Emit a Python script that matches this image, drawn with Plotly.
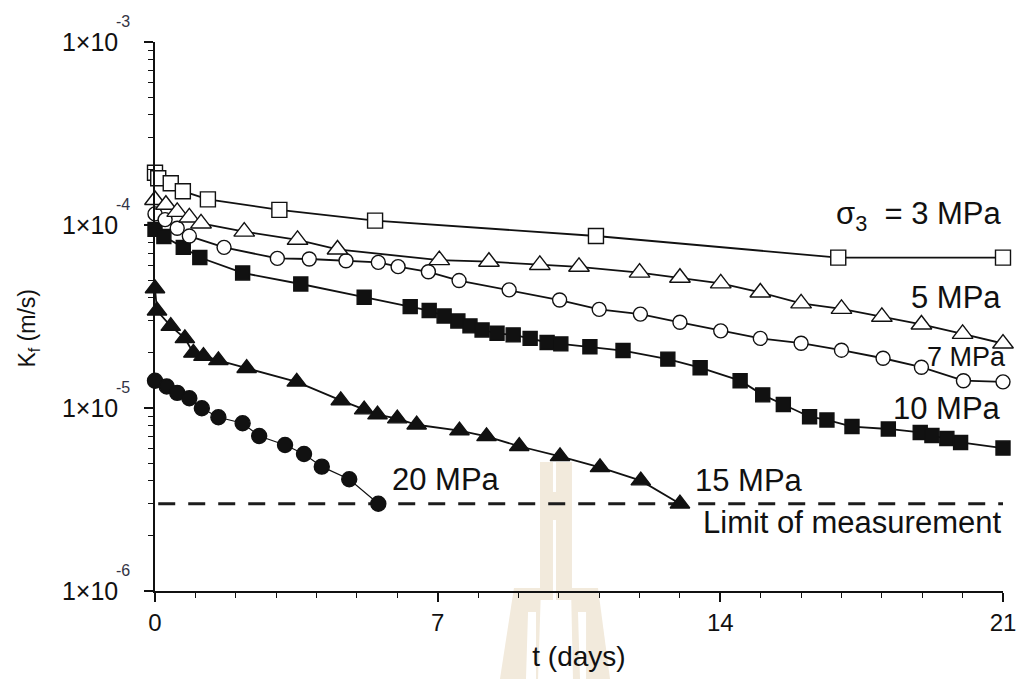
import math
import plotly.graph_objects as go

# Fracture permeability K_f (m/s) versus time t (days) at each confining pressure
t_3mpa = [0, 0.08, 0.39, 0.69, 1.31, 3.08, 5.45, 10.92, 16.92, 21.0]
k_3mpa = [1.93e-4, 1.80e-4, 1.69e-4, 1.53e-4, 1.38e-4, 1.21e-4, 1.056e-4, 8.71e-5, 6.63e-5, 6.63e-5]

t_5mpa = [0, 0.27, 0.55, 0.85, 1.14, 2.21, 3.53, 4.52, 7.04, 8.27, 9.53, 10.50,
          12.0, 13.0, 14.01, 14.99, 16.0, 17.0, 18.0, 18.98, 20.0, 21.0]
k_5mpa = [1.37e-4, 1.29e-4, 1.18e-4, 1.10e-4, 1.02e-4, 9.2e-5, 8.3e-5, 7.35e-5,
          6.43e-5, 6.30e-5, 6.05e-5, 5.91e-5, 5.49e-5, 5.15e-5, 4.80e-5, 4.28e-5,
          3.73e-5, 3.48e-5, 3.15e-5, 2.86e-5, 2.54e-5, 2.25e-5]

t_7mpa = [0, 0.25, 0.55, 0.85, 1.71, 3.03, 3.82, 4.73, 5.53, 6.02, 6.77, 7.53,
          8.77, 10.02, 11.0, 12.02, 13.0, 14.01, 14.99, 16.0, 17.0, 18.03, 18.98,
          20.02, 21.0]
k_7mpa = [1.15e-4, 1.07e-4, 9.6e-5, 8.7e-5, 7.55e-5, 6.57e-5, 6.52e-5, 6.38e-5,
          6.25e-5, 5.92e-5, 5.55e-5, 4.97e-5, 4.42e-5, 3.89e-5, 3.46e-5, 3.26e-5,
          2.94e-5, 2.64e-5, 2.40e-5, 2.26e-5, 2.07e-5, 1.87e-5, 1.67e-5, 1.41e-5,
          1.39e-5]

t_10mpa = [0, 0.22, 0.70, 1.11, 2.17, 3.61, 5.18, 6.32, 6.79, 7.16, 7.50, 7.80,
           8.10, 8.47, 8.87, 9.29, 9.71, 10.05, 10.77, 11.59, 12.70, 13.50, 14.49,
           15.05, 15.56, 16.21, 16.64, 17.26, 18.16, 18.95, 19.24, 19.61, 19.95, 21.0]
k_10mpa = [9.47e-5, 8.65e-5, 7.55e-5, 6.64e-5, 5.47e-5, 4.76e-5, 4.03e-5, 3.58e-5,
           3.41e-5, 3.18e-5, 2.99e-5, 2.81e-5, 2.67e-5, 2.56e-5, 2.51e-5, 2.40e-5,
           2.28e-5, 2.24e-5, 2.16e-5, 2.06e-5, 1.85e-5, 1.66e-5, 1.41e-5, 1.18e-5,
           1.045e-5, 8.96e-6, 8.60e-6, 7.92e-6, 7.68e-6, 7.35e-6, 7.07e-6, 6.81e-6,
           6.48e-6, 6.04e-6]

t_15mpa = [0, 0.05, 0.39, 0.74, 0.95, 1.20, 1.57, 2.27, 3.51, 4.60, 5.18, 5.51,
           6.0, 6.48, 7.54, 8.21, 9.02, 10.03, 11.02, 12.03, 13.0]
k_15mpa = [4.50e-5, 3.40e-5, 2.80e-5, 2.40e-5, 2.00e-5, 1.92e-5, 1.82e-5, 1.65e-5,
           1.39e-5, 1.10e-5, 9.8e-6, 9.2e-6, 8.75e-6, 8.1e-6, 7.52e-6, 7.0e-6,
           6.18e-6, 5.44e-6, 4.74e-6, 4.01e-6, 3.0e-6]

t_20mpa = [0, 0.29, 0.55, 0.85, 1.16, 1.57, 2.17, 2.58, 3.22, 3.69, 4.13, 4.81, 5.53]
k_20mpa = [1.41e-5, 1.31e-5, 1.21e-5, 1.13e-5, 9.96e-6, 8.90e-6, 8.25e-6, 7.03e-6,
           6.28e-6, 5.61e-6, 4.78e-6, 4.08e-6, 3.0e-6]

# Lower limit of the permeability measurement
limit_t = [0.08, 21.0]
limit_k = [3.0e-6, 3.0e-6]

x_ticks = [0, 7, 14, 21]
y_ticks = [1e-6, 1e-5, 1e-4, 1e-3]
y_ticktext = ["1×10", "1×10", "1×10", "1×10"]
y_exponents = ["-6", "-5", "-4", "-3"]
y_minor = [m * 10.0 ** e for e in (-6, -5, -4) for m in range(2, 10)]

FONT = "Arial, 'Liberation Sans', sans-serif"
INK = "#111111"

fig = go.Figure()

fig.add_trace(go.Scatter(
    x=limit_t, y=limit_k, mode="lines",
    line=dict(color="#1c1c1c", width=3, dash="17px,13px"),
    hoverinfo="skip"))


def series(t, k, symbol, fill, size, lw=1.8):
    fig.add_trace(go.Scatter(
        x=t, y=k, mode="lines+markers", cliponaxis=False,
        line=dict(color=INK, width=lw),
        marker=dict(symbol=symbol, size=size, color=fill,
                    line=dict(color=INK, width=1.4))))


series(t_20mpa, k_20mpa, "circle", INK, 15, lw=1.2)
series(t_15mpa, k_15mpa, "triangle-up", INK, 17)
series(t_10mpa, k_10mpa, "square", INK, 14)
series(t_7mpa, k_7mpa, "circle", "white", 14)
series(t_5mpa, k_5mpa, "triangle-up", "white", 18)
series(t_3mpa, k_3mpa, "square", "white", 15)

labels = [
    ("σ<sub>3</sub>\u00a0\u00a0= 3 MPa", 1.0, 0.683, "right", 31),
    ("5 MPa", 1.0, 0.534, "right", 31),
    ("7 MPa", 1.006, 0.426, "right", 27),
    ("10 MPa", 1.0, 0.333, "right", 31),
    ("20 MPa", 0.277, 0.204, "left", 31),
    ("15 MPa", 0.634, 0.202, "left", 31),
    ("Limit of measurement", 1.0, 0.124, "right", 31),
]
for text, x, y, anchor, size in labels:
    fig.add_annotation(text=text, x=x, y=y, xref="paper", yref="paper",
                       xanchor=anchor, yanchor="middle", showarrow=False,
                       font=dict(family=FONT, size=size, color=INK))

# Raised decade exponents beside the "1×10" tick labels
for val, ex in zip(y_ticks, y_exponents):
    fig.add_annotation(text=ex, x=-0.0375, y=math.log10(val),
                       xref="paper", yref="y", yshift=21, showarrow=False,
                       xanchor="center", yanchor="middle",
                       font=dict(family=FONT, size=16, color="#333344"))

fig.add_annotation(text="K<sub>f</sub> (m/s)", x=-0.168, y=0.478,
                   xref="paper", yref="paper", textangle=-90,
                   showarrow=False, font=dict(family=FONT, size=23, color=INK))

# Faint emblem printed behind the plot
EMB = "#f2eadc"
emblem = [
    "M540,462 H572 V600 H540 Z",
    "M514,588 H541 L538,679 H500 Z",
    "M571,588 H598 L610,679 H573 Z",
]
slots = [
    "M553,462 H556 V492 H553 Z",
    "M553,520 H556 V679 H553 Z",
    "M528,612 H536 V679 H526 Z",
    "M578,612 H586 V679 H580 Z",
]


def to_paper(path):
    toks = path
    for c in "MHVLZ":
        toks = toks.replace(c, f" {c} ")
    out = toks.split()
    res, i, cur = [], 0, [0.0, 0.0]
    while i < len(out):
        c = out[i]
        if c in ("M", "L"):
            cur = list(map(float, out[i + 1].split(",")))
            res.append(f"{c} {(cur[0] - 155) / 848:.4f},{(591 - cur[1]) / 549:.4f}")
            i += 2
        elif c in ("H", "V"):
            cur[0 if c == "H" else 1] = float(out[i + 1])
            res.append(f"L {(cur[0] - 155) / 848:.4f},{(591 - cur[1]) / 549:.4f}")
            i += 2
        else:
            res.append("Z")
            i += 1
    return " ".join(res)


for p in emblem:
    fig.add_shape(type="path", path=to_paper(p), xref="paper", yref="paper",
                  fillcolor=EMB, line=dict(width=0), layer="below")
for p in slots:
    fig.add_shape(type="path", path=to_paper(p), xref="paper", yref="paper",
                  fillcolor="white", line=dict(width=0), layer="below")

fig.update_layout(
    width=1019, height=679,
    margin=dict(l=155, r=16, t=42, b=88, autoexpand=False),
    paper_bgcolor="white", plot_bgcolor="rgba(0,0,0,0)",
    showlegend=False,
    font=dict(family=FONT, color=INK),
)

fig.update_xaxes(
    range=[0, 21], tickvals=x_ticks, ticks="outside", ticklen=9, tickwidth=1.5,
    tickcolor=INK, showline=True, linecolor=INK, linewidth=1.5, showgrid=False,
    zeroline=False, automargin=False, tickfont=dict(family=FONT, size=24, color=INK),
    minor=dict(dtick=1, ticks="outside", ticklen=5, tickwidth=1.2, tickcolor=INK, showgrid=False),
    title=dict(text="t (days)", font=dict(family=FONT, size=28, color=INK), standoff=12),
)

fig.update_yaxes(
    type="log", range=[-6, -3], tickvals=y_ticks, ticktext=y_ticktext,
    ticks="outside", ticklen=9, tickwidth=1.5, tickcolor=INK,
    showline=True, linecolor=INK, linewidth=1.5, showgrid=False, zeroline=False,
    automargin=False, tickfont=dict(family=FONT, size=25, color=INK), ticklabelstandoff=21,
    minor=dict(tickvals=y_minor, ticks="outside", ticklen=5, tickwidth=1.2,
               tickcolor=INK, showgrid=False),
)

fig.write_html("out.html")
